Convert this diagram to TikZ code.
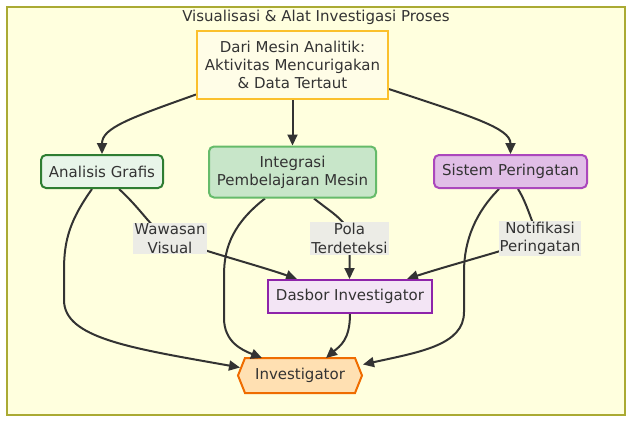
\documentclass[tikz,border=0pt]{standalone}
\usepackage{fontspec}
\setmainfont{DejaVu Sans}
\usetikzlibrary{arrows.meta,backgrounds,calc}
\definecolor{txt}{HTML}{333333}
\definecolor{clfill}{HTML}{FFFFDE}
\definecolor{cldraw}{HTML}{AAAA33}
\definecolor{topf}{HTML}{FFFDE7}
\definecolor{topd}{HTML}{FBC02D}
\definecolor{agf}{HTML}{E8F5E9}
\definecolor{agd}{HTML}{2E7D32}
\definecolor{mlf}{HTML}{C8E6C9}
\definecolor{mld}{HTML}{66BB6A}
\definecolor{spf}{HTML}{E1BEE7}
\definecolor{spd}{HTML}{AB47BC}
\definecolor{dbf}{HTML}{F3E5F5}
\definecolor{dbd}{HTML}{8E24AA}
\definecolor{invf}{HTML}{FFE0B2}
\definecolor{invd}{HTML}{EF6C00}
\definecolor{lblbg}{RGB}{236,236,230}
\pgfdeclarelayer{edgelayer}
\pgfsetlayers{background,edgelayer,main}
\tikzset{
  base/.style={line width=2pt, text=txt, align=center, font=\fontsize{15}{18}\selectfont, inner sep=0pt},
  topbox/.style={base, draw=topd, fill=topf, minimum width=191pt, minimum height=68pt},
  agbox/.style={base, draw=agd, fill=agf, rounded corners=5pt, minimum width=122pt, minimum height=33pt},
  mlbox/.style={base, draw=mld, fill=mlf, rounded corners=5pt, minimum width=167pt, minimum height=51pt},
  spbox/.style={base, draw=spd, fill=spf, rounded corners=5pt, minimum width=153pt, minimum height=33pt},
  dbbox/.style={base, draw=dbd, fill=dbf, minimum width=164pt, minimum height=33pt},
  invbox/.style={base, minimum width=122pt, minimum height=33pt},
  hexline/.style={line width=2pt, draw=invd, fill=invf},
  conn/.style={draw=txt, line width=2pt, -{Triangle[length=11pt,width=10pt]}},
  lbl/.style={fill=lblbg, text=txt, align=center, inner sep=1pt, font=\fontsize{15}{18.5}\selectfont},
  clusterbox/.style={draw=cldraw, fill=clfill, line width=1.2pt, minimum width=618pt, minimum height=408pt, inner sep=0pt}
}
\begin{document}
\begin{tikzpicture}[x=1pt,y=-1pt]
\useasboundingbox (0,0) rectangle (640,428);
\begin{pgfonlayer}{background}
\fill[white] (0,0) rectangle (640,428);
\node[clusterbox] (cluster) at (316,211) {};
\end{pgfonlayer}
\node[text=txt, font=\fontsize{15}{18}\selectfont] (title) at (316,17) {Visualisasi \& Alat Investigasi Proses};
\node[topbox] (top) at (292.5,65) {Dari Mesin Analitik:\\Aktivitas Mencurigakan\\\& Data Tertaut};
\node[agbox] (ag) at (102,171.5) {Analisis Grafis};
\node[mlbox] (ml) at (292.5,172) {Integrasi\\Pembelajaran Mesin};
\node[spbox] (sp) at (510.5,171.5) {Sistem Peringatan};
\node[dbbox] (db) at (350,296.5) {Dasbor Investigator};
\node[invbox] (inv) at (300,375.5) {Investigator};
\begin{pgfonlayer}{background}
\draw[hexline] (inv.west) -- ($(inv.north west)+(7,0)$) -- ($(inv.north east)+(-7,0)$) -- (inv.east) -- ($(inv.south east)+(-7,0)$) -- ($(inv.south west)+(7,0)$) -- cycle;
\end{pgfonlayer}
\node[lbl] (wv) at (170,238.5) {Wawasan\\Visual};
\node[lbl] (pt) at (349.5,238.5) {Pola\\Terdeteksi};
\node[lbl] (nt) at (540,238.5) {Notifikasi\\Peringatan};
\begin{pgfonlayer}{edgelayer}
\draw[conn] (top.197) .. controls (130,118) and (102,128) .. (ag.north);
\draw[conn] (top.south) -- (ml.north);
\draw[conn] (top.-14.5) .. controls (470,116) and (510.5,128) .. (sp.north);
\draw[conn] ($(ag.south)+(17,0)$) .. controls (145,213) and (150,228) .. (wv.center) .. controls (200,250) and (260,266) .. ($(db.north west)+(30,0)$);
\draw[conn] ($(ml.south)+(21.5,0)$) .. controls (332,213) and (349.5,222) .. (pt.center) -- ($(db.north)+(-0.5,0)$);
\draw[conn] ($(sp.south)+(7.5,0)$) .. controls (528,205) and (532,225) .. (nt.center) .. controls (500,252) and (450,265) .. ($(db.north east)+(-26,0)$);
\draw[conn] ($(ag.south)+(-10,0)$) .. controls (70,220) and (64,240) .. (64,270) -- (64,300) .. controls (64,338) and (130,348) .. ($(inv.west)+(2,-8)$);
\draw[conn] ($(ml.south)+(-27.5,0)$) .. controls (235,222) and (224,245) .. (224,275) -- (224,318) .. controls (224,342) and (242,350) .. ($(inv.north west)+(24,0)$);
\draw[conn] (db.south) .. controls (350,340) and (340,346) .. ($(inv.north)+(26,0)$);
\draw[conn] ($(sp.south)+(-11.5,0)$) .. controls (476,212) and (464,240) .. (464,272) -- (464,312) .. controls (464,345) and (420,352) .. ($(inv.east)+(1,-11)$);
\end{pgfonlayer}
\end{tikzpicture}
\end{document}
